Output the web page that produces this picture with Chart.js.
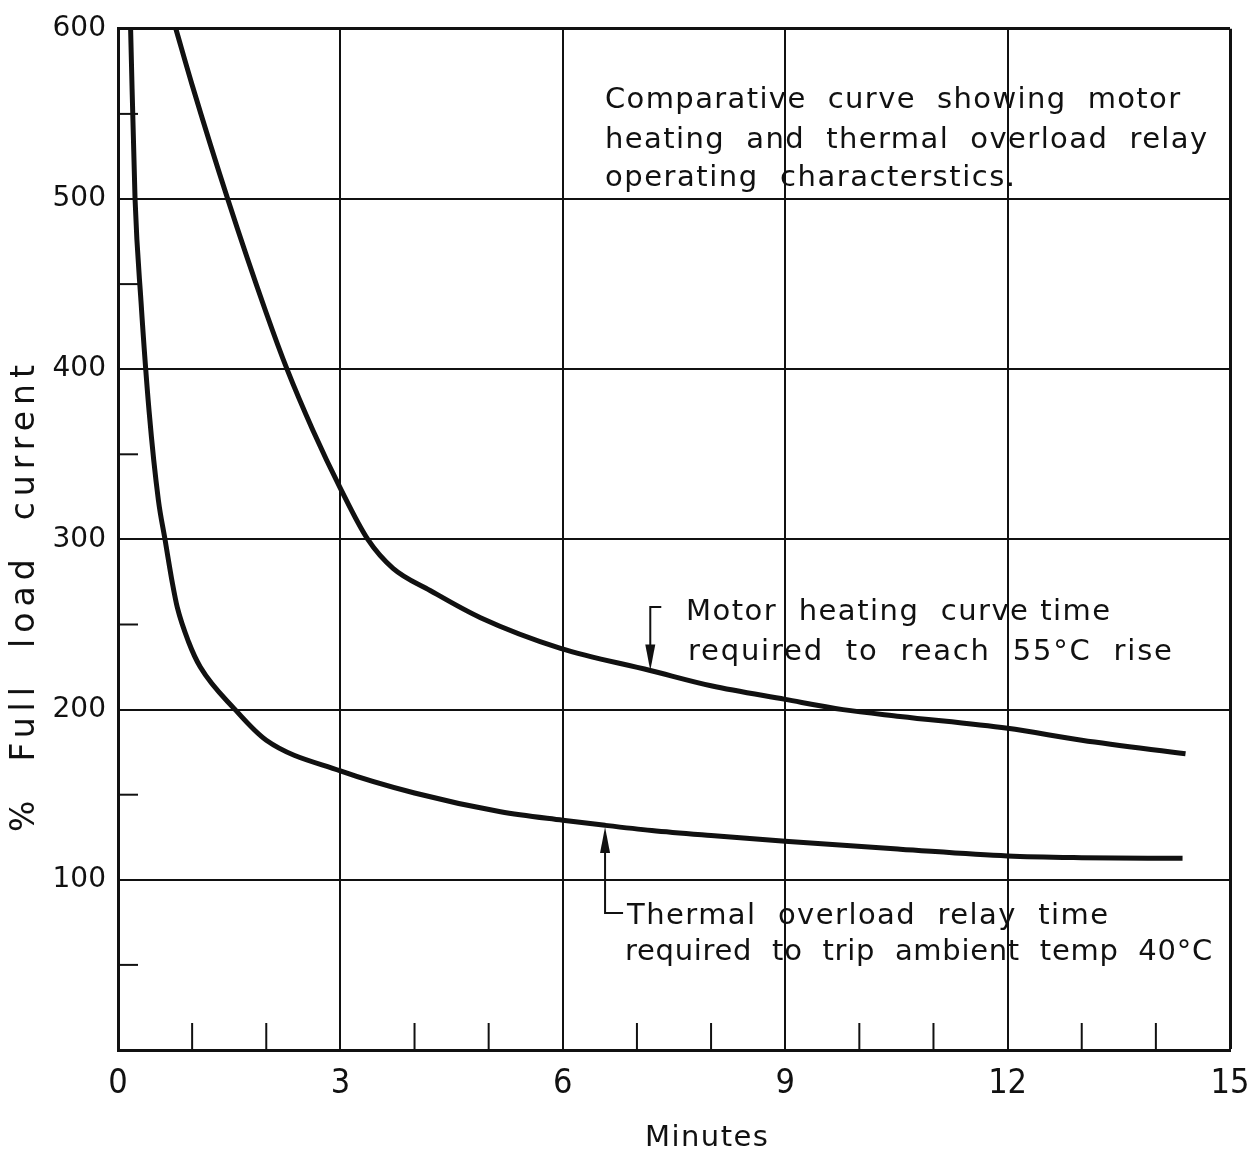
<!DOCTYPE html>
<html>
<head>
<meta charset="utf-8">
<script src="https://cdn.jsdelivr.net/npm/chart.js@4.4.1/dist/chart.umd.min.js"></script>
<style>
  html, body { margin: 0; background: #fff; }
  #wrap { width: 1254px; height: 1167px; }
</style>
</head>
<body>
<div id="wrap"><canvas id="chart"></canvas></div>
<script>
// values (minutes, % full load current)
const motorMinutes = [0.78, 1.0, 1.48, 2.0, 2.28, 2.63, 3.0, 3.37, 3.71, 4.21, 4.89, 5.97, 7.18, 8.0, 9.0, 9.78, 10.55, 12.0, 13.0, 14.4];
const motorCurrent = [600, 567, 500, 433, 400, 364, 330, 300, 283, 270, 254, 236, 223, 214, 206, 200, 196, 189, 182, 174];

const relayMinutes = [0.17, 0.23, 0.31, 0.42, 0.545, 0.634, 0.735, 0.80, 0.95, 1.11, 1.58, 2.0, 3.0, 4.0, 5.16, 6.0, 6.57, 7.2, 8.0, 9.0, 10.55, 12.0, 13.0, 14.36];
const relayCurrent = [600, 500, 440, 375, 323, 300, 274, 260, 240, 225, 200, 182, 164, 151, 140, 135, 132, 129, 126, 122.6, 118, 114, 113, 112.6];

const xTickLabels = [0, 3, 6, 9, 12, 15];
const yTickLabels = [100, 200, 300, 400, 500, 600];
const xMinorTicks = [1, 2, 4, 5, 7, 8, 10, 11, 13, 14];
const yMinorTicks = [50, 150, 250, 350, 450, 550];

const titleLines = ["Comparative  curve  showing  motor", "heating  and  thermal  overload  relay", "operating  characterstics."];
const motorLabel = ["Motor  heating  curve time", "required  to  reach  55°C  rise"];
const relayLabel = ["Thermal  overload  relay  time", "required  to  trip  ambient  temp  40°C"];
const xTitle = "Minutes";
const yTitle = "%  Full  load  current";

const INK = "#111";
const TXT_FONT = "29px 'DejaVu Sans', sans-serif";

const toPts = (xs, ys) => xs.map((x, i) => ({ x: x, y: ys[i] }));

// spread a line of text between left and right edge
function fitText(ctx, str, left, mid, right, font) {
  ctx.font = font || TXT_FONT;
  ctx.letterSpacing = "0px";
  const w = ctx.measureText(str).width;
  const ls = (right - left - w) / (str.length - 1);
  ctx.letterSpacing = ls.toFixed(2) + "px";
  ctx.textAlign = "left";
  ctx.textBaseline = "middle";
  ctx.fillText(str, left, mid);
  ctx.letterSpacing = "0px";
}

function arrowHead(ctx, x, tipY, dir) {
  // dir: 1 pointing down, -1 pointing up
  ctx.beginPath();
  ctx.moveTo(x, tipY);
  ctx.lineTo(x - 5, tipY - dir * 26);
  ctx.lineTo(x + 5, tipY - dir * 26);
  ctx.closePath();
  ctx.fill();
}

const drawingExtras = {
  id: "drawingExtras",
  beforeDatasetsDraw(chart) {
    const { ctx, scales: { x, y }, chartArea: a } = chart;
    ctx.save();
    ctx.strokeStyle = INK;
    ctx.lineWidth = 2;
    // short inward ticks
    xMinorTicks.forEach(v => {
      const px = x.getPixelForValue(v);
      ctx.beginPath(); ctx.moveTo(px, a.bottom); ctx.lineTo(px, a.bottom - 27); ctx.stroke();
    });
    yMinorTicks.forEach(v => {
      const py = y.getPixelForValue(v);
      ctx.beginPath(); ctx.moveTo(a.left, py); ctx.lineTo(a.left + 20, py); ctx.stroke();
    });
    ctx.restore();
  },
  afterDraw(chart) {
    const { ctx, scales: { x, y } } = chart;
    ctx.save();
    ctx.fillStyle = INK;
    ctx.strokeStyle = INK;
    ctx.lineWidth = 2;

    // caption at top right
    const capRight = [1180, 1207, 1015];
    [100, 140, 178].forEach((py, i) => fitText(ctx, titleLines[i], 605, py, capRight[i]));

    // motor heating label + arrow
    fitText(ctx, motorLabel[0], 686, 612, 1110);
    fitText(ctx, motorLabel[1], 688, 652, 1172);
    const mx = x.getPixelForValue(7.18);
    const mTip = y.getPixelForValue(223);
    ctx.beginPath();
    ctx.moveTo(mx + 11, 607); ctx.lineTo(mx, 607); ctx.lineTo(mx, mTip - 20);
    ctx.stroke();
    arrowHead(ctx, mx, mTip, 1);

    // thermal relay label + arrow
    fitText(ctx, relayLabel[0], 627, 916, 1108);
    fitText(ctx, relayLabel[1], 625, 952, 1212);
    const rx = x.getPixelForValue(6.57);
    const rTip = y.getPixelForValue(131);
    ctx.beginPath();
    ctx.moveTo(rx, rTip + 20); ctx.lineTo(rx, 913); ctx.lineTo(rx + 18, 913);
    ctx.stroke();
    arrowHead(ctx, rx, rTip, -1);

    // axis titles
    fitText(ctx, xTitle, 645, 1138, 768);
    ctx.translate(25, 0);
    ctx.rotate(-Math.PI / 2);
    fitText(ctx, yTitle, -832, 0, -365, "33px 'DejaVu Sans', sans-serif");
    ctx.restore();
  }
};

new Chart(document.getElementById("chart"), {
  type: "scatter",
  data: {
    datasets: [
      {
        label: "Motor heating curve",
        data: toPts(motorMinutes, motorCurrent),
        showLine: true,
        borderColor: INK,
        borderWidth: 5,
        pointRadius: 0,
        cubicInterpolationMode: "monotone"
      },
      {
        label: "Thermal overload relay",
        data: toPts(relayMinutes, relayCurrent),
        showLine: true,
        borderColor: INK,
        borderWidth: 5,
        pointRadius: 0,
        cubicInterpolationMode: "monotone"
      }
    ]
  },
  options: {
    responsive: true,
    maintainAspectRatio: false,
    animation: false,
    layout: { padding: { top: 28, right: 24, left: 0, bottom: 0 } },
    plugins: {
      legend: { display: false },
      tooltip: { enabled: false }
    },
    scales: {
      x: {
        type: "linear",
        min: 0,
        max: 15,
        afterFit: s => { s.height = 117; s.paddingRight = 0; s.paddingLeft = 0; },
        ticks: {
          stepSize: 1,
          autoSkip: false,
          maxRotation: 0,
          padding: 14,
          color: INK,
          font: { family: "'DejaVu Sans Condensed', 'DejaVu Sans', sans-serif", size: 34 },
          callback: v => xTickLabels.includes(v) ? String(v) : ""
        },
        grid: {
          drawTicks: false,
          color: c => (c.tick && c.tick.value % 3 === 0) ? INK : "rgba(0,0,0,0)",
          lineWidth: c => (c.tick && c.tick.value === 15) ? 3 : 2
        },
        border: { display: true, color: INK, width: 3 }
      },
      y: {
        min: 0,
        max: 600,
        afterFit: s => { s.width = 118; },
        ticks: {
          stepSize: 50,
          autoSkip: false,
          padding: 12,
          color: INK,
          font: { family: "'DejaVu Sans', sans-serif", size: 28 },
          callback: v => yTickLabels.includes(v) ? String(v) : ""
        },
        grid: {
          drawTicks: false,
          color: c => (c.tick && c.tick.value % 100 === 0 && c.tick.value > 0) ? INK : "rgba(0,0,0,0)",
          lineWidth: c => (c.tick && c.tick.value === 600) ? 3 : 2
        },
        border: { display: true, color: INK, width: 3 }
      }
    }
  },
  plugins: [drawingExtras]
});
</script>
</body>
</html>
